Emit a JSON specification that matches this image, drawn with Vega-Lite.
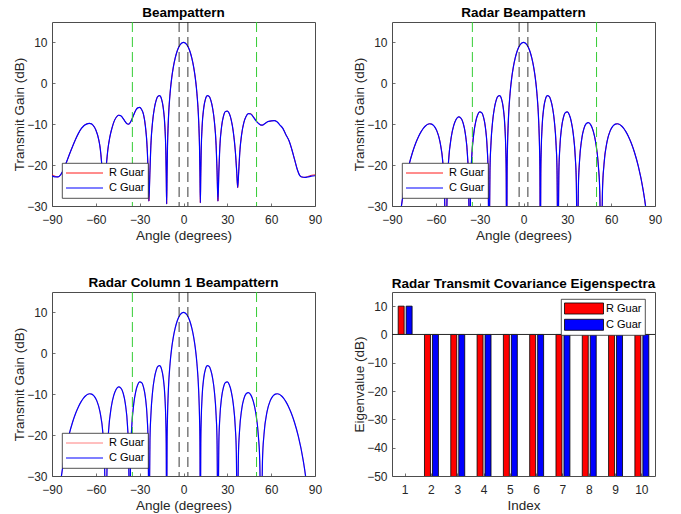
{
 "$schema": "https://vega.github.io/schema/vega-lite/v6.json",
 "background": "white",
 "padding": {"left": 12, "top": 5, "right": 5, "bottom": 5},
 "config": {
  "font": "Liberation Sans",
  "view": {"stroke": "#4d4d4d", "strokeWidth": 1},
  "axis": {"domain": false, "grid": false, "tickSize": -3, "tickColor": "#4d4d4d", "tickWidth": 0.8, "labelFont": "Liberation Sans", "labelFontSize": 12, "labelColor": "#262626", "labelFlush": false, "labelOverlap": false, "labelSeparation": 0, "titleFont": "Liberation Sans", "titleFontSize": 13.5, "titleFontWeight": "normal", "titleColor": "#262626"},
  "axisX": {"labelPadding": 11, "titlePadding": 3},
  "axisY": {"labelPadding": 8, "titlePadding": 0},
  "title": {"font": "Liberation Sans", "fontSize": 13.5, "fontWeight": "bold", "color": "black", "offset": 2},
  "legend": {"labelFont": "Liberation Sans", "labelFontSize": 11, "labelColor": "black", "strokeColor": "#262626", "fillColor": "white", "strokeWidth": 0.8}
 },
 "datasets": {
  "bp": [
   {"a": -90, "R": -22.3, "C": -22.6}, {"a": -88, "R": -22.7, "C": -22.9}, {"a": -86, "R": -22.9, "C": -22.9}, {"a": -84, "R": -22.3, "C": -22.3},
   {"a": -82, "R": -21.0, "C": -21.0}, {"a": -80, "R": -19.2, "C": -19.2}, {"a": -78, "R": -17.3, "C": -17.3}, {"a": -76, "R": -15.5, "C": -15.5},
   {"a": -74, "R": -13.8, "C": -13.8}, {"a": -72, "R": -12.3, "C": -12.3}, {"a": -70, "R": -11.1, "C": -11.1}, {"a": -68, "R": -10.3, "C": -10.3},
   {"a": -66, "R": -9.9, "C": -9.9}, {"a": -64.5, "R": -9.8, "C": -9.8}, {"a": -63, "R": -9.9, "C": -9.9}, {"a": -62, "R": -10.2, "C": -10.2},
   {"a": -60, "R": -11.4, "C": -11.4}, {"a": -58, "R": -13.8, "C": -13.8}, {"a": -57, "R": -15.9, "C": -15.9}, {"a": -56.1, "R": -19.2, "C": -19.2},
   {"a": -55.3, "R": -23.5, "C": -23.5}, {"a": -54.5, "R": -27.0, "C": -27.0}, {"a": -53.6, "R": -23.5, "C": -23.5}, {"a": -52.7, "R": -19.6, "C": -19.6},
   {"a": -51.8, "R": -16.3, "C": -16.3}, {"a": -50.5, "R": -13.3, "C": -13.3}, {"a": -49, "R": -11.0, "C": -11.0}, {"a": -47.5, "R": -9.3, "C": -9.3},
   {"a": -46, "R": -8.3, "C": -8.3}, {"a": -44.5, "R": -7.8, "C": -7.8}, {"a": -43, "R": -7.9, "C": -7.9}, {"a": -41.5, "R": -8.5, "C": -8.5},
   {"a": -40, "R": -9.3, "C": -9.3}, {"a": -38.7, "R": -9.9, "C": -9.9}, {"a": -37.5, "R": -10.0, "C": -10.0}, {"a": -36.5, "R": -9.6, "C": -9.6},
   {"a": -35.451, "R": -8.9, "C": -8.9}, {"a": -34.056, "R": -7.7, "C": -7.7}, {"a": -32.684, "R": -6.6, "C": -6.6}, {"a": -31.332, "R": -6.0, "C": -6.0},
   {"a": -30, "R": -5.9, "C": -5.9}, {"a": -28.685, "R": -6.4, "C": -6.4}, {"a": -27.387, "R": -7.6, "C": -7.6}, {"a": -26.105, "R": -10.4, "C": -10.4},
   {"a": -24.835, "R": -16.0, "C": -16.0}, {"a": -24.205, "R": -21.7, "C": -21.7}, {"a": -23.7, "R": -28.8, "C": -28.8}, {"a": -22.954, "R": -21.3, "C": -21.3},
   {"a": -22.333, "R": -15.2, "C": -15.2}, {"a": -21.1, "R": -9.2, "C": -9.2}, {"a": -19.877, "R": -5.98, "C": -5.98}, {"a": -18.663, "R": -4.09, "C": -4.09},
   {"a": -17.458, "R": -3.14, "C": -3.14}, {"a": -16.26, "R": -3.02, "C": -3.02}, {"a": -15.07, "R": -3.82, "C": -3.82}, {"a": -13.887, "R": -5.94, "C": -5.94},
   {"a": -12.71, "R": -10.8, "C": -10.8}, {"a": -12.122, "R": -16.32, "C": -16.32}, {"a": -11.83, "R": -22.1, "C": -22.1}, {"a": -11.537, "R": -29.5, "C": -29.5},
   {"a": -11.244, "R": -21.7, "C": -21.7}, {"a": -10.953, "R": -15.48, "C": -15.48}, {"a": -10.37, "R": -9.11, "C": -9.11}, {"a": -9.207, "R": -2.53, "C": -2.53},
   {"a": -8.048, "R": 1.38, "C": 1.38}, {"a": -6.892, "R": 4.11, "C": 4.11}, {"a": -5.739, "R": 6.11, "C": 6.11}, {"a": -4.589, "R": 7.6, "C": 7.6},
   {"a": -3.44, "R": 8.69, "C": 8.69}, {"a": -2.292, "R": 9.43, "C": 9.43}, {"a": -1.146, "R": 9.86, "C": 9.86}, {"a": 0, "R": 10, "C": 10},
   {"a": 1.146, "R": 9.86, "C": 9.86}, {"a": 2.292, "R": 9.43, "C": 9.43}, {"a": 3.44, "R": 8.69, "C": 8.69}, {"a": 4.589, "R": 7.6, "C": 7.6},
   {"a": 5.739, "R": 6.11, "C": 6.11}, {"a": 6.892, "R": 4.11, "C": 4.11}, {"a": 8.048, "R": 1.38, "C": 1.38}, {"a": 9.207, "R": -2.53, "C": -2.53},
   {"a": 10.37, "R": -9.11, "C": -9.11}, {"a": 10.953, "R": -15.48, "C": -15.48}, {"a": 11.244, "R": -21.7, "C": -21.7}, {"a": 11.537, "R": -29.2, "C": -29.2},
   {"a": 11.83, "R": -22.1, "C": -22.1}, {"a": 12.122, "R": -16.32, "C": -16.32}, {"a": 12.71, "R": -10.8, "C": -10.8}, {"a": 13.887, "R": -5.94, "C": -5.94},
   {"a": 15.07, "R": -3.82, "C": -3.82}, {"a": 16.26, "R": -3.02, "C": -3.02}, {"a": 17.458, "R": -3.14, "C": -3.14}, {"a": 18.663, "R": -4.09, "C": -4.09},
   {"a": 19.877, "R": -5.98, "C": -5.98}, {"a": 21.1, "R": -9.2, "C": -9.2}, {"a": 22.333, "R": -15.2, "C": -15.2}, {"a": 22.954, "R": -21.3, "C": -21.3},
   {"a": 23.578, "R": -28.8, "C": -28.8}, {"a": 24.205, "R": -21.5, "C": -21.5}, {"a": 24.835, "R": -15.8, "C": -15.8}, {"a": 26.105, "R": -10.5, "C": -10.5},
   {"a": 27.387, "R": -8.0, "C": -8.0}, {"a": 28.685, "R": -6.9, "C": -6.9}, {"a": 30, "R": -6.8, "C": -6.8}, {"a": 31.332, "R": -7.4, "C": -7.4},
   {"a": 32.684, "R": -9.0, "C": -9.0}, {"a": 34.056, "R": -11.8, "C": -11.8}, {"a": 35.451, "R": -16.5, "C": -16.5}, {"a": 36.4, "R": -21.5, "C": -21.5},
   {"a": 37.1, "R": -25.5, "C": -25.5}, {"a": 37.8, "R": -21.5, "C": -21.5}, {"a": 38.5, "R": -17.0, "C": -17.0}, {"a": 39.8, "R": -12.5, "C": -12.5},
   {"a": 41.3, "R": -9.6, "C": -9.6}, {"a": 42.8, "R": -8.1, "C": -8.1}, {"a": 44.4, "R": -7.4, "C": -7.4}, {"a": 46, "R": -7.4, "C": -7.5},
   {"a": 47.7, "R": -8.1, "C": -8.2}, {"a": 49.5, "R": -9.0, "C": -9.1}, {"a": 51.3, "R": -9.8, "C": -9.8}, {"a": 53, "R": -10.2, "C": -10.2},
   {"a": 54.1, "R": -10.2, "C": -10.2}, {"a": 55.5, "R": -9.9, "C": -9.9}, {"a": 57.5, "R": -9.4, "C": -9.4}, {"a": 60, "R": -9.2, "C": -9.2},
   {"a": 62.1, "R": -9.1, "C": -9.1}, {"a": 64, "R": -9.4, "C": -9.4}, {"a": 66, "R": -10.2, "C": -10.2}, {"a": 68, "R": -11.0, "C": -11.0},
   {"a": 70, "R": -12.5, "C": -12.5}, {"a": 72.3, "R": -14.1, "C": -14.1}, {"a": 74, "R": -16.0, "C": -16.0}, {"a": 76, "R": -18.6, "C": -18.6},
   {"a": 78, "R": -21.2, "C": -21.2}, {"a": 79.5, "R": -22.5, "C": -22.5}, {"a": 81, "R": -22.9, "C": -22.9}, {"a": 83, "R": -23.0, "C": -23.0},
   {"a": 85, "R": -22.8, "C": -22.9}, {"a": 87.5, "R": -22.5, "C": -22.7}, {"a": 90, "R": -22.4, "C": -22.6}
  ],
  "rp": [
   {"a": -90, "R": -60, "C": -60}, {"a": -84.27, "R": -32.1, "C": -32.1}, {"a": -81.89, "R": -26.11, "C": -26.11}, {"a": -78.522, "R": -20.2, "C": -20.2},
   {"a": -75.93, "R": -16.85, "C": -16.85}, {"a": -73.74, "R": -14.6, "C": -14.6}, {"a": -71.805, "R": -12.98, "C": -12.98}, {"a": -70.052, "R": -11.8, "C": -11.8},
   {"a": -68.437, "R": -10.95, "C": -10.95}, {"a": -66.926, "R": -10.37, "C": -10.37}, {"a": -65.505, "R": -10.02, "C": -10.02}, {"a": -64.158, "R": -9.89, "C": -9.89},
   {"a": -62.874, "R": -9.98, "C": -9.98}, {"a": -61.642, "R": -10.28, "C": -10.28}, {"a": -60.458, "R": -10.82, "C": -10.82}, {"a": -59.316, "R": -11.63, "C": -11.63},
   {"a": -57.14, "R": -14.34, "C": -14.34}, {"a": -55.084, "R": -19.85, "C": -19.85}, {"a": -54.096, "R": -25.72, "C": -25.72}, {"a": -53.13, "R": -45, "C": -45},
   {"a": -52.185, "R": -24.83, "C": -24.83}, {"a": -51.26, "R": -18.87, "C": -18.87}, {"a": -49.464, "R": -13.18, "C": -13.18}, {"a": -47.731, "R": -10.3, "C": -10.3},
   {"a": -46.054, "R": -8.77, "C": -8.77}, {"a": -44.427, "R": -8.2, "C": -8.2}, {"a": -42.844, "R": -8.49, "C": -8.49}, {"a": -41.3, "R": -9.74, "C": -9.74},
   {"a": -39.792, "R": -12.35, "C": -12.35}, {"a": -38.317, "R": -17.75, "C": -17.75}, {"a": -37.59, "R": -23.57, "C": -23.57}, {"a": -36.87, "R": -45, "C": -45},
   {"a": -36.157, "R": -24.17, "C": -24.17}, {"a": -35.451, "R": -18.15, "C": -18.15}, {"a": -34.056, "R": -12.35, "C": -12.35}, {"a": -32.684, "R": -9.34, "C": -9.34},
   {"a": -31.332, "R": -7.69, "C": -7.69}, {"a": -30, "R": -6.99, "C": -6.99}, {"a": -28.685, "R": -7.14, "C": -7.14}, {"a": -27.387, "R": -8.25, "C": -8.25},
   {"a": -26.105, "R": -10.7, "C": -10.7}, {"a": -24.835, "R": -15.95, "C": -15.95}, {"a": -24.205, "R": -21.68, "C": -21.68}, {"a": -23.578, "R": -45, "C": -45},
   {"a": -22.954, "R": -21.3, "C": -21.3}, {"a": -22.333, "R": -15.2, "C": -15.2}, {"a": -21.1, "R": -9.2, "C": -9.2}, {"a": -19.877, "R": -5.98, "C": -5.98},
   {"a": -18.663, "R": -4.09, "C": -4.09}, {"a": -17.458, "R": -3.14, "C": -3.14}, {"a": -16.26, "R": -3.02, "C": -3.02}, {"a": -15.07, "R": -3.82, "C": -3.82},
   {"a": -13.887, "R": -5.94, "C": -5.94}, {"a": -12.71, "R": -10.8, "C": -10.8}, {"a": -12.122, "R": -16.32, "C": -16.32}, {"a": -11.83, "R": -22.1, "C": -22.1},
   {"a": -11.537, "R": -45, "C": -45}, {"a": -11.244, "R": -21.7, "C": -21.7}, {"a": -10.953, "R": -15.48, "C": -15.48}, {"a": -10.37, "R": -9.11, "C": -9.11},
   {"a": -9.207, "R": -2.53, "C": -2.53}, {"a": -8.048, "R": 1.38, "C": 1.38}, {"a": -6.892, "R": 4.11, "C": 4.11}, {"a": -5.739, "R": 6.11, "C": 6.11},
   {"a": -4.589, "R": 7.6, "C": 7.6}, {"a": -3.44, "R": 8.69, "C": 8.69}, {"a": -2.292, "R": 9.43, "C": 9.43}, {"a": -1.146, "R": 9.86, "C": 9.86},
   {"a": 0, "R": 10, "C": 10},
   {"a": 1.146, "R": 9.86, "C": 9.86}, {"a": 2.292, "R": 9.43, "C": 9.43}, {"a": 3.44, "R": 8.69, "C": 8.69}, {"a": 4.589, "R": 7.6, "C": 7.6},
   {"a": 5.739, "R": 6.11, "C": 6.11}, {"a": 6.892, "R": 4.11, "C": 4.11}, {"a": 8.048, "R": 1.38, "C": 1.38}, {"a": 9.207, "R": -2.53, "C": -2.53},
   {"a": 10.37, "R": -9.11, "C": -9.11}, {"a": 10.953, "R": -15.48, "C": -15.48}, {"a": 11.244, "R": -21.7, "C": -21.7}, {"a": 11.537, "R": -45, "C": -45},
   {"a": 11.83, "R": -22.1, "C": -22.1}, {"a": 12.122, "R": -16.32, "C": -16.32}, {"a": 12.71, "R": -10.8, "C": -10.8}, {"a": 13.887, "R": -5.94, "C": -5.94},
   {"a": 15.07, "R": -3.82, "C": -3.82}, {"a": 16.26, "R": -3.02, "C": -3.02}, {"a": 17.458, "R": -3.14, "C": -3.14}, {"a": 18.663, "R": -4.09, "C": -4.09},
   {"a": 19.877, "R": -5.98, "C": -5.98}, {"a": 21.1, "R": -9.2, "C": -9.2}, {"a": 22.333, "R": -15.2, "C": -15.2}, {"a": 22.954, "R": -21.3, "C": -21.3},
   {"a": 23.578, "R": -45, "C": -45}, {"a": 24.205, "R": -21.68, "C": -21.68}, {"a": 24.835, "R": -15.95, "C": -15.95}, {"a": 26.105, "R": -10.7, "C": -10.7},
   {"a": 27.387, "R": -8.25, "C": -8.25}, {"a": 28.685, "R": -7.14, "C": -7.14}, {"a": 30, "R": -6.99, "C": -6.99}, {"a": 31.332, "R": -7.69, "C": -7.69},
   {"a": 32.684, "R": -9.34, "C": -9.34}, {"a": 34.056, "R": -12.35, "C": -12.35}, {"a": 35.451, "R": -18.15, "C": -18.15}, {"a": 36.157, "R": -24.17, "C": -24.17},
   {"a": 36.87, "R": -45, "C": -45}, {"a": 37.59, "R": -24.97, "C": -24.97}, {"a": 38.317, "R": -19.15, "C": -19.15}, {"a": 39.792, "R": -13.75, "C": -13.75},
   {"a": 41.3, "R": -11.14, "C": -11.14}, {"a": 42.844, "R": -9.89, "C": -9.89}, {"a": 44.427, "R": -9.6, "C": -9.6}, {"a": 46.054, "R": -10.17, "C": -10.17},
   {"a": 47.731, "R": -11.7, "C": -11.7}, {"a": 49.464, "R": -14.58, "C": -14.58}, {"a": 51.26, "R": -20.27, "C": -20.27}, {"a": 52.185, "R": -26.23, "C": -26.23},
   {"a": 53.13, "R": -45, "C": -45}, {"a": 54.096, "R": -25.72, "C": -25.72}, {"a": 55.084, "R": -19.85, "C": -19.85}, {"a": 57.14, "R": -14.34, "C": -14.34},
   {"a": 59.316, "R": -11.63, "C": -11.63}, {"a": 60.458, "R": -10.82, "C": -10.82}, {"a": 61.642, "R": -10.28, "C": -10.28}, {"a": 62.874, "R": -9.98, "C": -9.98},
   {"a": 64.158, "R": -9.89, "C": -9.89}, {"a": 65.505, "R": -10.02, "C": -10.02}, {"a": 66.926, "R": -10.37, "C": -10.37}, {"a": 68.437, "R": -10.95, "C": -10.95},
   {"a": 70.052, "R": -11.8, "C": -11.8}, {"a": 71.805, "R": -12.98, "C": -12.98}, {"a": 73.74, "R": -14.6, "C": -14.6}, {"a": 75.93, "R": -16.85, "C": -16.85},
   {"a": 78.522, "R": -20.2, "C": -20.2}, {"a": 81.89, "R": -26.11, "C": -26.11}, {"a": 84.27, "R": -32.1, "C": -32.1}, {"a": 90, "R": -60, "C": -60}
  ],
  "blk": [{"a": -3}, {"a": 3}],
  "grn": [{"a": -35}, {"a": 50}],
  "zero": [{"v": 0}],
  "eig": [
   {"i": 1, "s": "R Guar", "v": 10}, {"i": 1, "s": "C Guar", "v": 10},
   {"i": 2, "s": "R Guar", "v": -300}, {"i": 2, "s": "C Guar", "v": -300},
   {"i": 3, "s": "R Guar", "v": -300}, {"i": 3, "s": "C Guar", "v": -300},
   {"i": 4, "s": "R Guar", "v": -300}, {"i": 4, "s": "C Guar", "v": -300},
   {"i": 5, "s": "R Guar", "v": -300}, {"i": 5, "s": "C Guar", "v": -300},
   {"i": 6, "s": "R Guar", "v": -300}, {"i": 6, "s": "C Guar", "v": -300},
   {"i": 7, "s": "R Guar", "v": -300}, {"i": 7, "s": "C Guar", "v": -300},
   {"i": 8, "s": "R Guar", "v": -300}, {"i": 8, "s": "C Guar", "v": -300},
   {"i": 9, "s": "R Guar", "v": -300}, {"i": 9, "s": "C Guar", "v": -300},
   {"i": 10, "s": "R Guar", "v": -300}, {"i": 10, "s": "C Guar", "v": -300}
  ]
 },
 "columns": 2,
 "spacing": {"row": 86, "column": 77},
 "bounds": "flush",
 "resolve": {"scale": {"color": "independent", "strokeWidth": "independent"}, "legend": {"color": "independent"}},
 "concat": [
  {
   "title": "Beampattern",
   "width": 263, "height": 184,
   "layer": [
    {"data": {"name": "bp"},
     "transform": [{"fold": ["R", "C"], "as": ["key", "val"]}],
     "mark": {"type": "line", "clip": true, "interpolate": "monotone"},
     "encoding": {
      "x": {"field": "a", "type": "quantitative", "title": "Angle (degrees)", "scale": {"domain": [-90, 90], "nice": false}, "axis": {"values": [-90, -60, -30, 0, 30, 60, 90]}},
      "y": {"field": "val", "type": "quantitative", "title": "Transmit Gain (dB)", "scale": {"domain": [-30, 15], "nice": false}, "axis": {"values": [-30, -20, -10, 0, 10]}},
      "color": {"field": "key", "type": "nominal", "sort": ["R", "C"], "scale": {"domain": ["R", "C"], "range": ["#ff0000", "#0000ff"]},
       "legend": {"orient": "none", "legendX": 10, "legendY": 141, "title": null, "labelExpr": "datum.value === 'R' ? 'R Guar' : 'C Guar'", "symbolType": "stroke", "symbolSize": 1369, "clipHeight": 14, "symbolStrokeWidth": 1, "labelOffset": 5, "padding": 3, "rowPadding": 1}},
      "strokeWidth": {"field": "key", "type": "nominal", "scale": {"domain": ["R", "C"], "range": [0.9, 1.2]}, "legend": null}
     }},
    {"data": {"name": "blk"}, "mark": {"type": "rule", "color": "#222222", "strokeWidth": 0.9, "strokeDash": [10, 5]},
     "encoding": {"x": {"field": "a", "type": "quantitative", "title": "Angle (degrees)"}}},
    {"data": {"name": "grn"}, "mark": {"type": "rule", "color": "#33cc33", "strokeWidth": 1, "strokeDash": [10, 5]},
     "encoding": {"x": {"field": "a", "type": "quantitative", "title": "Angle (degrees)"}}}
   ]
  },
  {
   "title": "Radar Beampattern",
   "width": 263, "height": 184,
   "layer": [
    {"data": {"name": "rp"},
     "transform": [{"fold": ["R", "C"], "as": ["key", "val"]}],
     "mark": {"type": "line", "clip": true, "interpolate": "monotone"},
     "encoding": {
      "x": {"field": "a", "type": "quantitative", "title": "Angle (degrees)", "scale": {"domain": [-90, 90], "nice": false}, "axis": {"values": [-90, -60, -30, 0, 30, 60, 90]}},
      "y": {"field": "val", "type": "quantitative", "title": "Transmit Gain (dB)", "scale": {"domain": [-30, 15], "nice": false}, "axis": {"values": [-30, -20, -10, 0, 10]}},
      "color": {"field": "key", "type": "nominal", "sort": ["R", "C"], "scale": {"domain": ["R", "C"], "range": ["#ff0000", "#0000ff"]},
       "legend": {"orient": "none", "legendX": 10, "legendY": 141, "title": null, "labelExpr": "datum.value === 'R' ? 'R Guar' : 'C Guar'", "symbolType": "stroke", "symbolSize": 1369, "clipHeight": 14, "symbolStrokeWidth": 1, "labelOffset": 5, "padding": 3, "rowPadding": 1}},
      "strokeWidth": {"field": "key", "type": "nominal", "scale": {"domain": ["R", "C"], "range": [0.9, 1.2]}, "legend": null}
     }},
    {"data": {"name": "blk"}, "mark": {"type": "rule", "color": "#222222", "strokeWidth": 0.9, "strokeDash": [10, 5]},
     "encoding": {"x": {"field": "a", "type": "quantitative", "title": "Angle (degrees)"}}},
    {"data": {"name": "grn"}, "mark": {"type": "rule", "color": "#33cc33", "strokeWidth": 1, "strokeDash": [10, 5]},
     "encoding": {"x": {"field": "a", "type": "quantitative", "title": "Angle (degrees)"}}}
   ]
  },
  {
   "title": "Radar Column 1 Beampattern",
   "width": 263, "height": 184,
   "layer": [
    {"data": {"name": "rp"},
     "transform": [{"fold": ["R", "C"], "as": ["key", "val"]}],
     "mark": {"type": "line", "clip": true, "interpolate": "monotone"},
     "encoding": {
      "x": {"field": "a", "type": "quantitative", "title": "Angle (degrees)", "scale": {"domain": [-90, 90], "nice": false}, "axis": {"values": [-90, -60, -30, 0, 30, 60, 90]}},
      "y": {"field": "val", "type": "quantitative", "title": "Transmit Gain (dB)", "scale": {"domain": [-30, 15], "nice": false}, "axis": {"values": [-30, -20, -10, 0, 10]}},
      "color": {"field": "key", "type": "nominal", "sort": ["R", "C"], "scale": {"domain": ["R", "C"], "range": ["#ff7070", "#0000ff"]},
       "legend": {"orient": "none", "legendX": 10, "legendY": 141, "title": null, "labelExpr": "datum.value === 'R' ? 'R Guar' : 'C Guar'", "symbolType": "stroke", "symbolSize": 1369, "clipHeight": 14, "symbolStrokeWidth": 1, "labelOffset": 5, "padding": 3, "rowPadding": 1}},
      "strokeWidth": {"field": "key", "type": "nominal", "scale": {"domain": ["R", "C"], "range": [0.9, 1.2]}, "legend": null}
     }},
    {"data": {"name": "blk"}, "mark": {"type": "rule", "color": "#222222", "strokeWidth": 0.9, "strokeDash": [10, 5]},
     "encoding": {"x": {"field": "a", "type": "quantitative", "title": "Angle (degrees)"}}},
    {"data": {"name": "grn"}, "mark": {"type": "rule", "color": "#33cc33", "strokeWidth": 1, "strokeDash": [10, 5]},
     "encoding": {"x": {"field": "a", "type": "quantitative", "title": "Angle (degrees)"}}}
   ]
  },
  {
   "title": "Radar Transmit Covariance Eigenspectra",
   "width": 263, "height": 184,
   "layer": [
    {"data": {"name": "eig"},
     "mark": {"type": "bar", "clip": true, "stroke": "black", "strokeWidth": 0.8},
     "encoding": {
      "x": {"field": "i", "type": "ordinal", "title": "Index", "scale": {"paddingInner": 0.47, "paddingOuter": 0.235}, "axis": {"labelAngle": 0}},
      "xOffset": {"field": "s", "type": "nominal", "sort": ["R Guar", "C Guar"], "scale": {"paddingInner": 0.25, "paddingOuter": 0}},
      "y": {"field": "v", "type": "quantitative", "title": "Eigenvalue (dB)", "scale": {"domain": [-50, 15], "nice": false}, "axis": {"values": [-50, -40, -30, -20, -10, 0, 10], "labelOverlap": false}},
      "color": {"field": "s", "type": "nominal", "scale": {"domain": ["R Guar", "C Guar"], "range": ["#ff0000", "#0000ff"]},
       "legend": {"orient": "none", "legendX": 169, "legendY": 7, "title": null, "symbolType": "M-1,-0.92H5.5V0.92H-1Z", "symbolSize": 144, "symbolStrokeColor": "black", "symbolStrokeWidth": 0.8, "labelOffset": 29, "padding": 3, "rowPadding": 1.3}}
     }},
    {"data": {"name": "zero"},
     "mark": {"type": "rule", "color": "#262626", "strokeWidth": 1},
     "encoding": {"y": {"field": "v", "type": "quantitative", "title": "Eigenvalue (dB)", "axis": {"values": [-50, -40, -30, -20, -10, 0, 10], "labelOverlap": false}}}}
   ]
  }
 ]
}
